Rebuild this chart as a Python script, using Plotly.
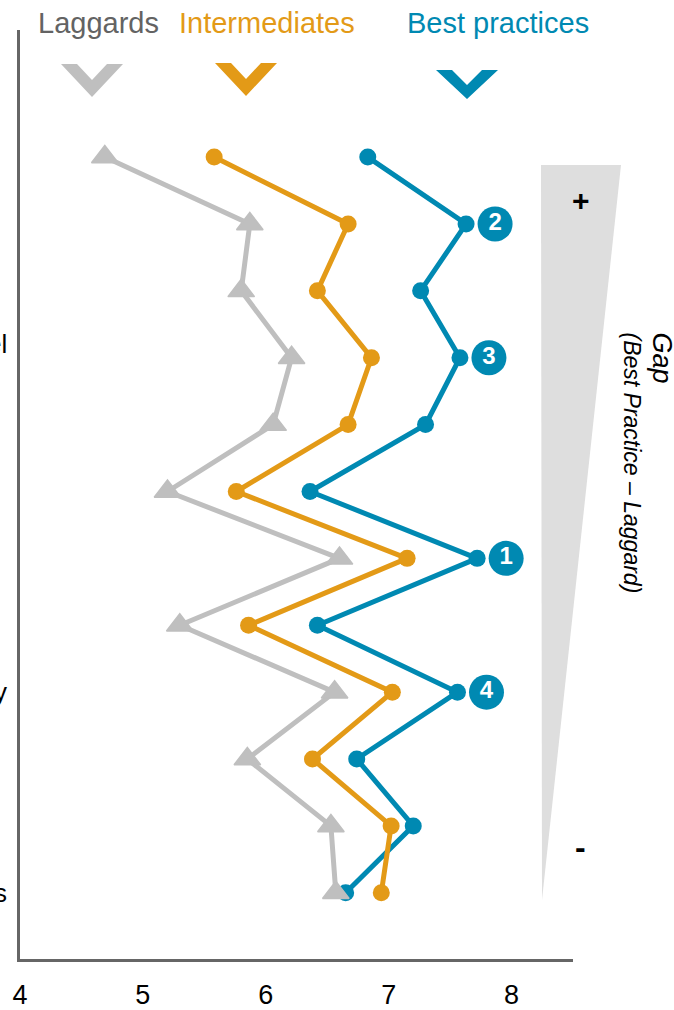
import plotly.graph_objects as go

# ---------------- data ----------------
rows = list(range(12))
laggards = [4.69, 5.87, 5.80, 6.21, 6.06, 5.20, 6.60, 5.30, 6.56, 5.85, 6.53, 6.57]
intermediates = [5.58, 6.67, 6.42, 6.86, 6.67, 5.76, 7.15, 5.86, 7.03, 6.38, 7.02, 6.94]
best_practices = [6.83, 7.63, 7.26, 7.58, 7.30, 6.36, 7.72, 6.42, 7.56, 6.74, 7.20, 6.65]
gap_ranks = [None, 2, None, 3, None, None, 1, None, 4, None, None, None]
row_labels = {3: "el", 8: "y", 11: "s"}   # labels cut off at the left edge
x_ticks = [4, 5, 6, 7, 8]
series_names = ["Laggards", "Intermediates", "Best practices"]

# ---------------- style ----------------
GRAY = "#BFBFBF"
ORANGE = "#E39A17"
TEAL = "#0089B2"
AXIS = "#666666"
FONT = "Liberation Sans, Arial, sans-serif"

W, H = 674, 1010
L, R, T, B = 20, 573, 30, 959


def pxx(p):
    return (p - L) / (R - L)


def pxy(p):
    return (B - p) / (B - T)


fig = go.Figure()

# draw order: best practices (bottom), intermediates, laggards (top)
fig.add_trace(go.Scatter(
    x=best_practices, y=rows, mode="lines+markers", name=series_names[2],
    line=dict(color=TEAL, width=5),
    marker=dict(symbol="circle", size=17, color=TEAL),
    hoverinfo="x+name"))
fig.add_trace(go.Scatter(
    x=intermediates, y=rows, mode="lines+markers", name=series_names[1],
    line=dict(color=ORANGE, width=5),
    marker=dict(symbol="circle", size=17, color=ORANGE),
    hoverinfo="x+name"))
fig.add_trace(go.Scatter(
    x=laggards, y=rows, mode="lines+markers", name=series_names[0],
    line=dict(color=GRAY, width=5),
    marker=dict(symbol="triangle-up", size=23, color=GRAY,
                line=dict(color=GRAY, width=1.5)),
    hoverinfo="x+name"))

# numbered gap badges next to best-practice points
badge_offset = 0.236
bx, by, bt = [], [], []
for i, r in enumerate(gap_ranks):
    if r is not None:
        bx.append(best_practices[i] + badge_offset)
        by.append(rows[i])
        bt.append(f"<b>{r}</b>")
fig.add_trace(go.Scatter(
    x=bx, y=by, mode="markers+text", text=bt,
    textposition="middle center",
    textfont=dict(family=FONT, size=24, color="white"),
    marker=dict(symbol="circle", size=35, color=TEAL),
    hoverinfo="skip"))

shapes = []
# gap wedge
shapes.append(dict(
    type="path", xref="paper", yref="paper", layer="below",
    path=f"M {pxx(541)},{pxy(165)} L {pxx(621)},{pxy(165)} L {pxx(542)},{pxy(900)} Z",
    fillcolor="#DEDEDE", line=dict(width=0)))


def chevron(cx, top, color, hw=31, h=33, ihw=15, notch=16):
    p = (f"M {pxx(cx - hw)},{pxy(top)} L {pxx(cx - ihw)},{pxy(top)} "
         f"L {pxx(cx)},{pxy(top + notch)} L {pxx(cx + ihw)},{pxy(top)} "
         f"L {pxx(cx + hw)},{pxy(top)} L {pxx(cx)},{pxy(top + h)} Z")
    return dict(type="path", xref="paper", yref="paper", path=p,
                fillcolor=color, line=dict(width=0))


shapes.append(chevron(92, 64, GRAY))
shapes.append(chevron(246, 63, ORANGE))
shapes.append(chevron(467, 70, TEAL, h=29, notch=15))

annotations = []
# header labels
for name, cx, col in [(series_names[0], 98, "#636363"),
                      (series_names[1], 267, ORANGE),
                      (series_names[2], 498, TEAL)]:
    annotations.append(dict(
        text=name, xref="paper", yref="paper", x=pxx(cx), y=pxy(23),
        xanchor="center", yanchor="middle", showarrow=False,
        font=dict(family=FONT, size=29, color=col)))

# cut-off row labels at left edge
for r, lab in row_labels.items():
    annotations.append(dict(
        text=lab, xref="paper", yref="y", x=pxx(9), y=r,
        xanchor="right", yanchor="middle", showarrow=False,
        yshift=14 if r == 3 else 0,
        font=dict(family=FONT, size=26, color="black")))

# + / - on wedge
annotations.append(dict(
    text="<b>+</b>", xref="paper", yref="paper", x=pxx(581), y=pxy(200),
    xanchor="center", yanchor="middle", showarrow=False,
    font=dict(family=FONT, size=30, color="black")))
annotations.append(dict(
    text="<b>-</b>", xref="paper", yref="paper", x=pxx(580), y=pxy(847),
    xanchor="center", yanchor="middle", showarrow=False,
    font=dict(family=FONT, size=32, color="black")))

# Gap labels (rotated)
annotations.append(dict(
    text="<i>Gap</i>", xref="paper", yref="paper", x=pxx(662), y=pxy(331),
    xanchor="center", yanchor="top", textangle=90, showarrow=False,
    borderpad=0,
    font=dict(family=FONT, size=27, color="black")))
annotations.append(dict(
    text="<i>(Best Practice – Laggard)</i>", xref="paper", yref="paper",
    x=pxx(632), y=pxy(331),
    xanchor="center", yanchor="top", textangle=90, showarrow=False,
    borderpad=0,
    font=dict(family=FONT, size=23, color="black")))

fig.update_layout(
    width=W, height=H,
    margin=dict(l=L, r=W - R, t=T, b=H - B, autoexpand=False),
    paper_bgcolor="white", plot_bgcolor="white",
    showlegend=False,
    font=dict(family=FONT, color="black"),
    shapes=shapes, annotations=annotations,
    xaxis=dict(range=[4, 8.5], tickvals=x_ticks, ticktext=[str(t) for t in x_ticks],
               showline=True, linecolor=AXIS, linewidth=3, showgrid=False,
               zeroline=False, ticks="", ticklabelstandoff=10,
               tickfont=dict(family=FONT, size=27, color="black")),
    yaxis=dict(range=[11.99, -1.90], showline=True, linecolor=AXIS, linewidth=3,
               showgrid=False, zeroline=False, showticklabels=False, ticks=""),
)

fig.write_html("out.html")
